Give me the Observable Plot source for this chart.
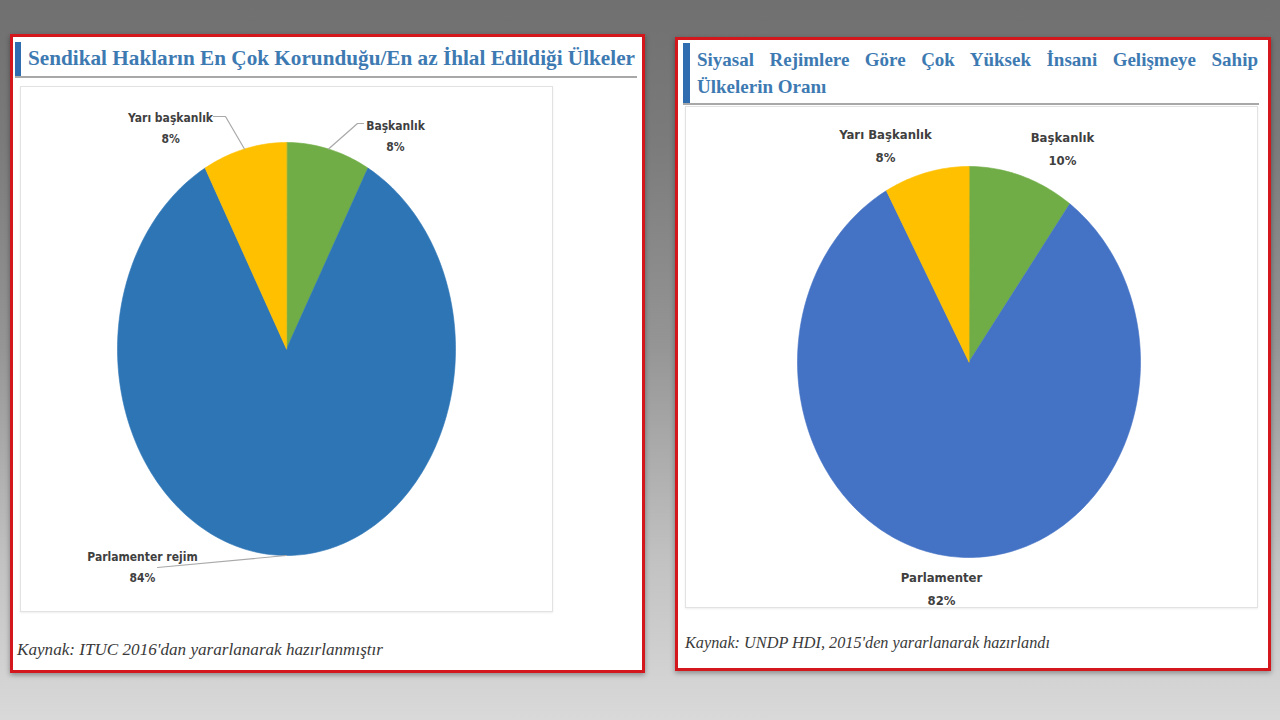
<!DOCTYPE html>
<html><head><meta charset="utf-8">
<script src="https://cdn.jsdelivr.net/npm/d3@7"></script>
<script src="https://cdn.jsdelivr.net/npm/@observablehq/plot@0.6"></script>
<style>
html,body{margin:0;padding:0;}
body{width:1280px;height:720px;overflow:hidden;position:relative;
background:linear-gradient(180deg,#707070 0%,#7b7b7b 20%,#959595 48%,#c2c2c2 78%,#d9d9d9 100%);}
.panel{position:absolute;background:#fff;border:3px solid #d3171d;box-sizing:border-box;box-shadow:0 2px 5px rgba(0,0,0,.35);}
.bar{position:absolute;background:#2f6db0;}
.title{position:absolute;font-family:"Liberation Serif","DejaVu Serif",serif;font-weight:bold;color:#3e7ab2;white-space:nowrap;transform-origin:0 50%;}
.rule{position:absolute;height:2px;background:#a8a8a8;}
.box{position:absolute;border:1px solid #e2e2e2;box-sizing:border-box;box-shadow:0 1px 2px rgba(0,0,0,.07);}
.cap{position:absolute;font-family:"Liberation Serif","DejaVu Serif",serif;font-style:italic;color:#3a3a3a;white-space:nowrap;transform-origin:0 50%;}
.chart{position:absolute;}
</style>
</head><body>
<div class="panel" style="left:10px;top:34px;width:635px;height:639px"></div>
<div class="panel" style="left:675px;top:37px;width:596px;height:634px"></div>

<div class="bar" style="left:15px;top:42px;width:6px;height:34px"></div>
<div id="t1" class="title" style="left:28px;top:46px;font-size:21px;line-height:24px">Sendikal Hakların En Çok Korunduğu/En az İhlal Edildiği Ülkeler</div>
<div class="rule" style="left:15px;top:76px;width:622px"></div>
<div class="box" style="left:20px;top:86px;width:533px;height:526px"></div>
<div id="c1" class="chart" style="left:20px;top:86px"></div>
<div id="k1" class="cap" style="left:17px;top:640px;font-size:16px;line-height:20px">Kaynak: ITUC 2016'dan yararlanarak hazırlanmıştır</div>

<div class="bar" style="left:683px;top:43px;width:7px;height:60px"></div>
<div class="title" style="left:697px;top:46px;width:561px;font-size:19px;line-height:27px;text-align:justify;text-align-last:justify;white-space:normal">Siyasal Rejimlere Göre Çok Yüksek İnsani Gelişmeye Sahip</div>
<div class="title" style="left:697px;top:73px;font-size:19px;line-height:27px">Ülkelerin Oranı</div>
<div class="rule" style="left:683px;top:103px;width:576px"></div>
<div class="box" style="left:685px;top:106px;width:573px;height:502px"></div>
<div id="c2" class="chart" style="left:685px;top:106px"></div>
<div id="k2" class="cap" style="left:685px;top:633px;font-size:16px;line-height:20px">Kaynak: UNDP HDI, 2015'den yararlanarak hazırlandı</div>

<script>
// ---- data ----
const regimesA = ["Başkanlık", "Parlamenter rejim", "Yarı başkanlık"];
const sharesA  = [8, 84, 8];
const colorsA  = ["#70ad47", "#2e75b6", "#ffc000"];

const regimesB = ["Başkanlık", "Parlamenter", "Yarı Başkanlık"];
const sharesB  = [10, 82, 8];
const colorsB  = ["#70ad47", "#4472c4", "#ffc000"];

// ---- helpers ----
function pieGeometry(labels, values) {
  const arcs = d3.pie().sort(null).startAngle(0).endAngle(2 * Math.PI)(values);
  const pts = [];
  arcs.forEach((a, i) => {
    pts.push({k: labels[i], x: 0, y: 0});
    const n = Math.max(2, Math.ceil((a.endAngle - a.startAngle) / (Math.PI / 180)));
    for (let j = 0; j <= n; j++) {
      const t = a.startAngle + (a.endAngle - a.startAngle) * j / n;
      pts.push({k: labels[i], x: Math.sin(t), y: Math.cos(t)});
    }
  });
  const mids = arcs.map((a, i) => {
    const t = (a.startAngle + a.endAngle) / 2;
    return {k: labels[i], v: values[i], x: Math.sin(t), y: Math.cos(t)};
  });
  return {pts, mids};
}

function drawPie(el, labels, values, colors, opt) {
  const {pts, mids} = pieGeometry(labels, values);
  const labelRows = mids.map((m, i) => ({
    text: labels[i] + "\n" + values[i] + "%",
    x: opt.labelPos[i][0], y: opt.labelPos[i][1]
  }));
  const leaders = [];
  if (opt.leaders) {
    opt.leaders.forEach((L, i) => {
      if (!L) return;
      L.forEach(p => leaders.push({k: labels[i], x: p[0], y: p[1]}));
      leaders.push({k: labels[i], x: mids[i].x, y: mids[i].y});
    });
  }
  const chart = Plot.plot({
    width: opt.width, height: opt.height,
    margin: 0,
    x: {domain: [-1, 1], range: opt.xRange, axis: null},
    y: {domain: [-1, 1], range: opt.yRange, axis: null},
    color: {domain: labels, range: colors},
    style: {background: "transparent", overflow: "visible"},
    marks: [
      Plot.line(pts, {x: "x", y: "y", z: "k", fill: "k", stroke: "k", strokeWidth: 0.6, curve: "linear-closed"}),
      Plot.line(leaders, {x: "x", y: "y", z: "k", stroke: "#a9a9a9", strokeWidth: 1.2}),
      Plot.text(labelRows, {x: "x", y: "y", text: "text", lineHeight: opt.lineHeight,
        fontSize: opt.fontSize, fontWeight: "bold", fill: "#3f3f3f",
        fontFamily: "'Liberation Sans Narrow','DejaVu Sans Condensed','Liberation Sans',sans-serif"})
    ]
  });
  el.appendChild(chart);
}

drawPie(document.getElementById("c1"), regimesA, sharesA, colorsA, {
  width: 533, height: 526,
  xRange: [97, 435], yRange: [469, 56],
  fontSize: 12, lineHeight: 1.8,
  labelPos: [[0.645, 1.044], [-0.852, -1.044], [-0.686, 1.082]],
  leaders: [[[0.456, 1.092], [0.42, 1.092]], [[-0.763, -1.058]], [[-0.432, 1.126], [-0.361, 1.126]]]
});

drawPie(document.getElementById("c2"), regimesB, sharesB, colorsB, {
  width: 573, height: 502,
  xRange: [112, 455], yRange: [451, 60],
  fontSize: 13, lineHeight: 1.75,
  labelPos: [[0.545, 1.102], [-0.16, -1.148], [-0.487, 1.12]],
  leaders: null
});

function fit(id, w) {
  const el = document.getElementById(id);
  const cw = el.getBoundingClientRect().width;
  el.style.transform = `scaleX(${w / cw})`;
}
fit("t1", 607);
fit("k1", 366);
fit("k2", 365);
</script>
</body></html>
